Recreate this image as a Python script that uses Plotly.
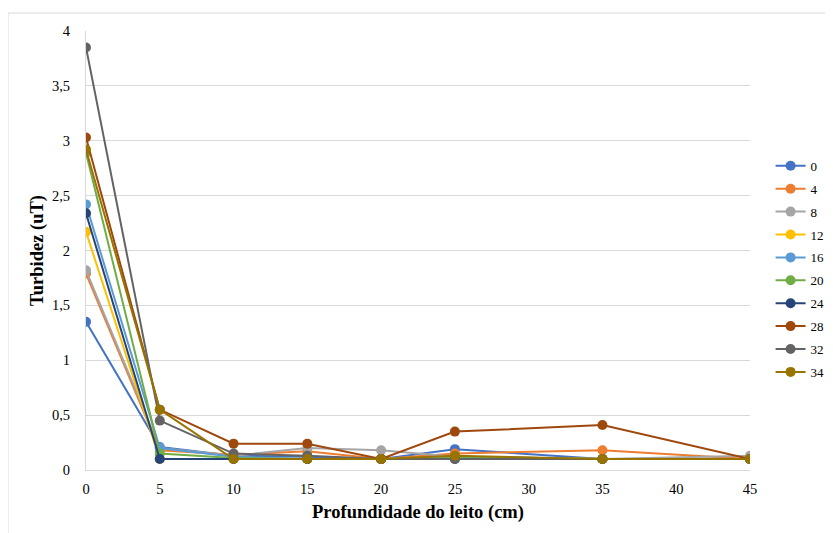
import plotly.graph_objects as go

depth = [0, 5, 10, 15, 20, 25, 35, 45]
series_names = ["0", "4", "8", "12", "16", "20", "24", "28", "32", "34"]
s0 = [1.35, 0.21, 0.13, 0.12, 0.10, 0.19, 0.10, 0.10]
s4 = [1.79, 0.18, 0.14, 0.17, 0.10, 0.15, 0.18, 0.10]
s8 = [1.82, 0.20, 0.13, 0.20, 0.18, 0.12, 0.10, 0.13]
s12 = [2.17, 0.10, 0.10, 0.10, 0.10, 0.12, 0.10, 0.10]
s16 = [2.42, 0.20, 0.12, 0.10, 0.10, 0.12, 0.10, 0.10]
s20 = [2.89, 0.15, 0.11, 0.10, 0.10, 0.11, 0.10, 0.10]
s24 = [2.34, 0.10, 0.10, 0.10, 0.10, 0.10, 0.10, 0.10]
s28 = [3.03, 0.55, 0.24, 0.24, 0.10, 0.35, 0.41, 0.10]
s32 = [3.85, 0.45, 0.15, 0.13, 0.10, 0.10, 0.10, 0.10]
s34 = [2.92, 0.55, 0.10, 0.10, 0.10, 0.13, 0.10, 0.10]
values = [s0, s4, s8, s12, s16, s20, s24, s28, s32, s34]
colors = ["#4472C4", "#ED7D31", "#A5A5A5", "#FFC000", "#5B9BD5",
          "#70AD47", "#264478", "#9E480E", "#636363", "#997300"]

font_family = "Liberation Serif, Times New Roman, serif"

fig = go.Figure()
for name, vals, c in zip(series_names, values, colors):
    fig.add_trace(go.Scatter(
        x=depth, y=vals, name=name, mode="lines+markers",
        legendgroup=name,
        line=dict(color=c, width=2),
        marker=dict(color=c, size=10),
    ))

fig.update_layout(
    width=850, height=533,
    margin=dict(l=78, r=108, t=23, b=71),
    paper_bgcolor="white", plot_bgcolor="white",
    separators=",.",
    font=dict(family=font_family, size=14.5, color="#000000"),
    xaxis=dict(
        range=[0, 45], tickmode="linear", tick0=0, dtick=5,
        showgrid=False, zeroline=False,
        showline=True, linecolor="#d9d9d9", linewidth=1,
        ticks="", ticklabelstandoff=6,
        title=dict(text="<b>Profundidade do leito (cm)</b>",
                   font=dict(size=18.5, family=font_family), standoff=8),
    ),
    yaxis=dict(
        range=[0, 4], tickmode="linear", tick0=0, dtick=0.5,
        showgrid=True, gridcolor="#d9d9d9", gridwidth=1,
        zeroline=False,
        showline=True, linecolor="#d9d9d9", linewidth=1,
        ticks="", ticklabelstandoff=12,
        title=dict(text="<b>Turbidez (uT)</b>",
                   font=dict(size=18.5, family=font_family), standoff=3),
    ),
    legend=dict(
        x=1.031, y=0.727, xanchor="left", yanchor="top",
        font=dict(size=13, family=font_family),
        tracegroupgap=3, itemwidth=30,
        bgcolor="rgba(0,0,0,0)",
    ),
    shapes=[dict(
        type="rect", xref="paper", yref="paper",
        x0=-0.1175, x1=1.14, y0=-0.2, y1=1.041,
        line=dict(color="#d9d9d9", width=1), layer="below",
    )],
)

fig.write_html("out.html")
